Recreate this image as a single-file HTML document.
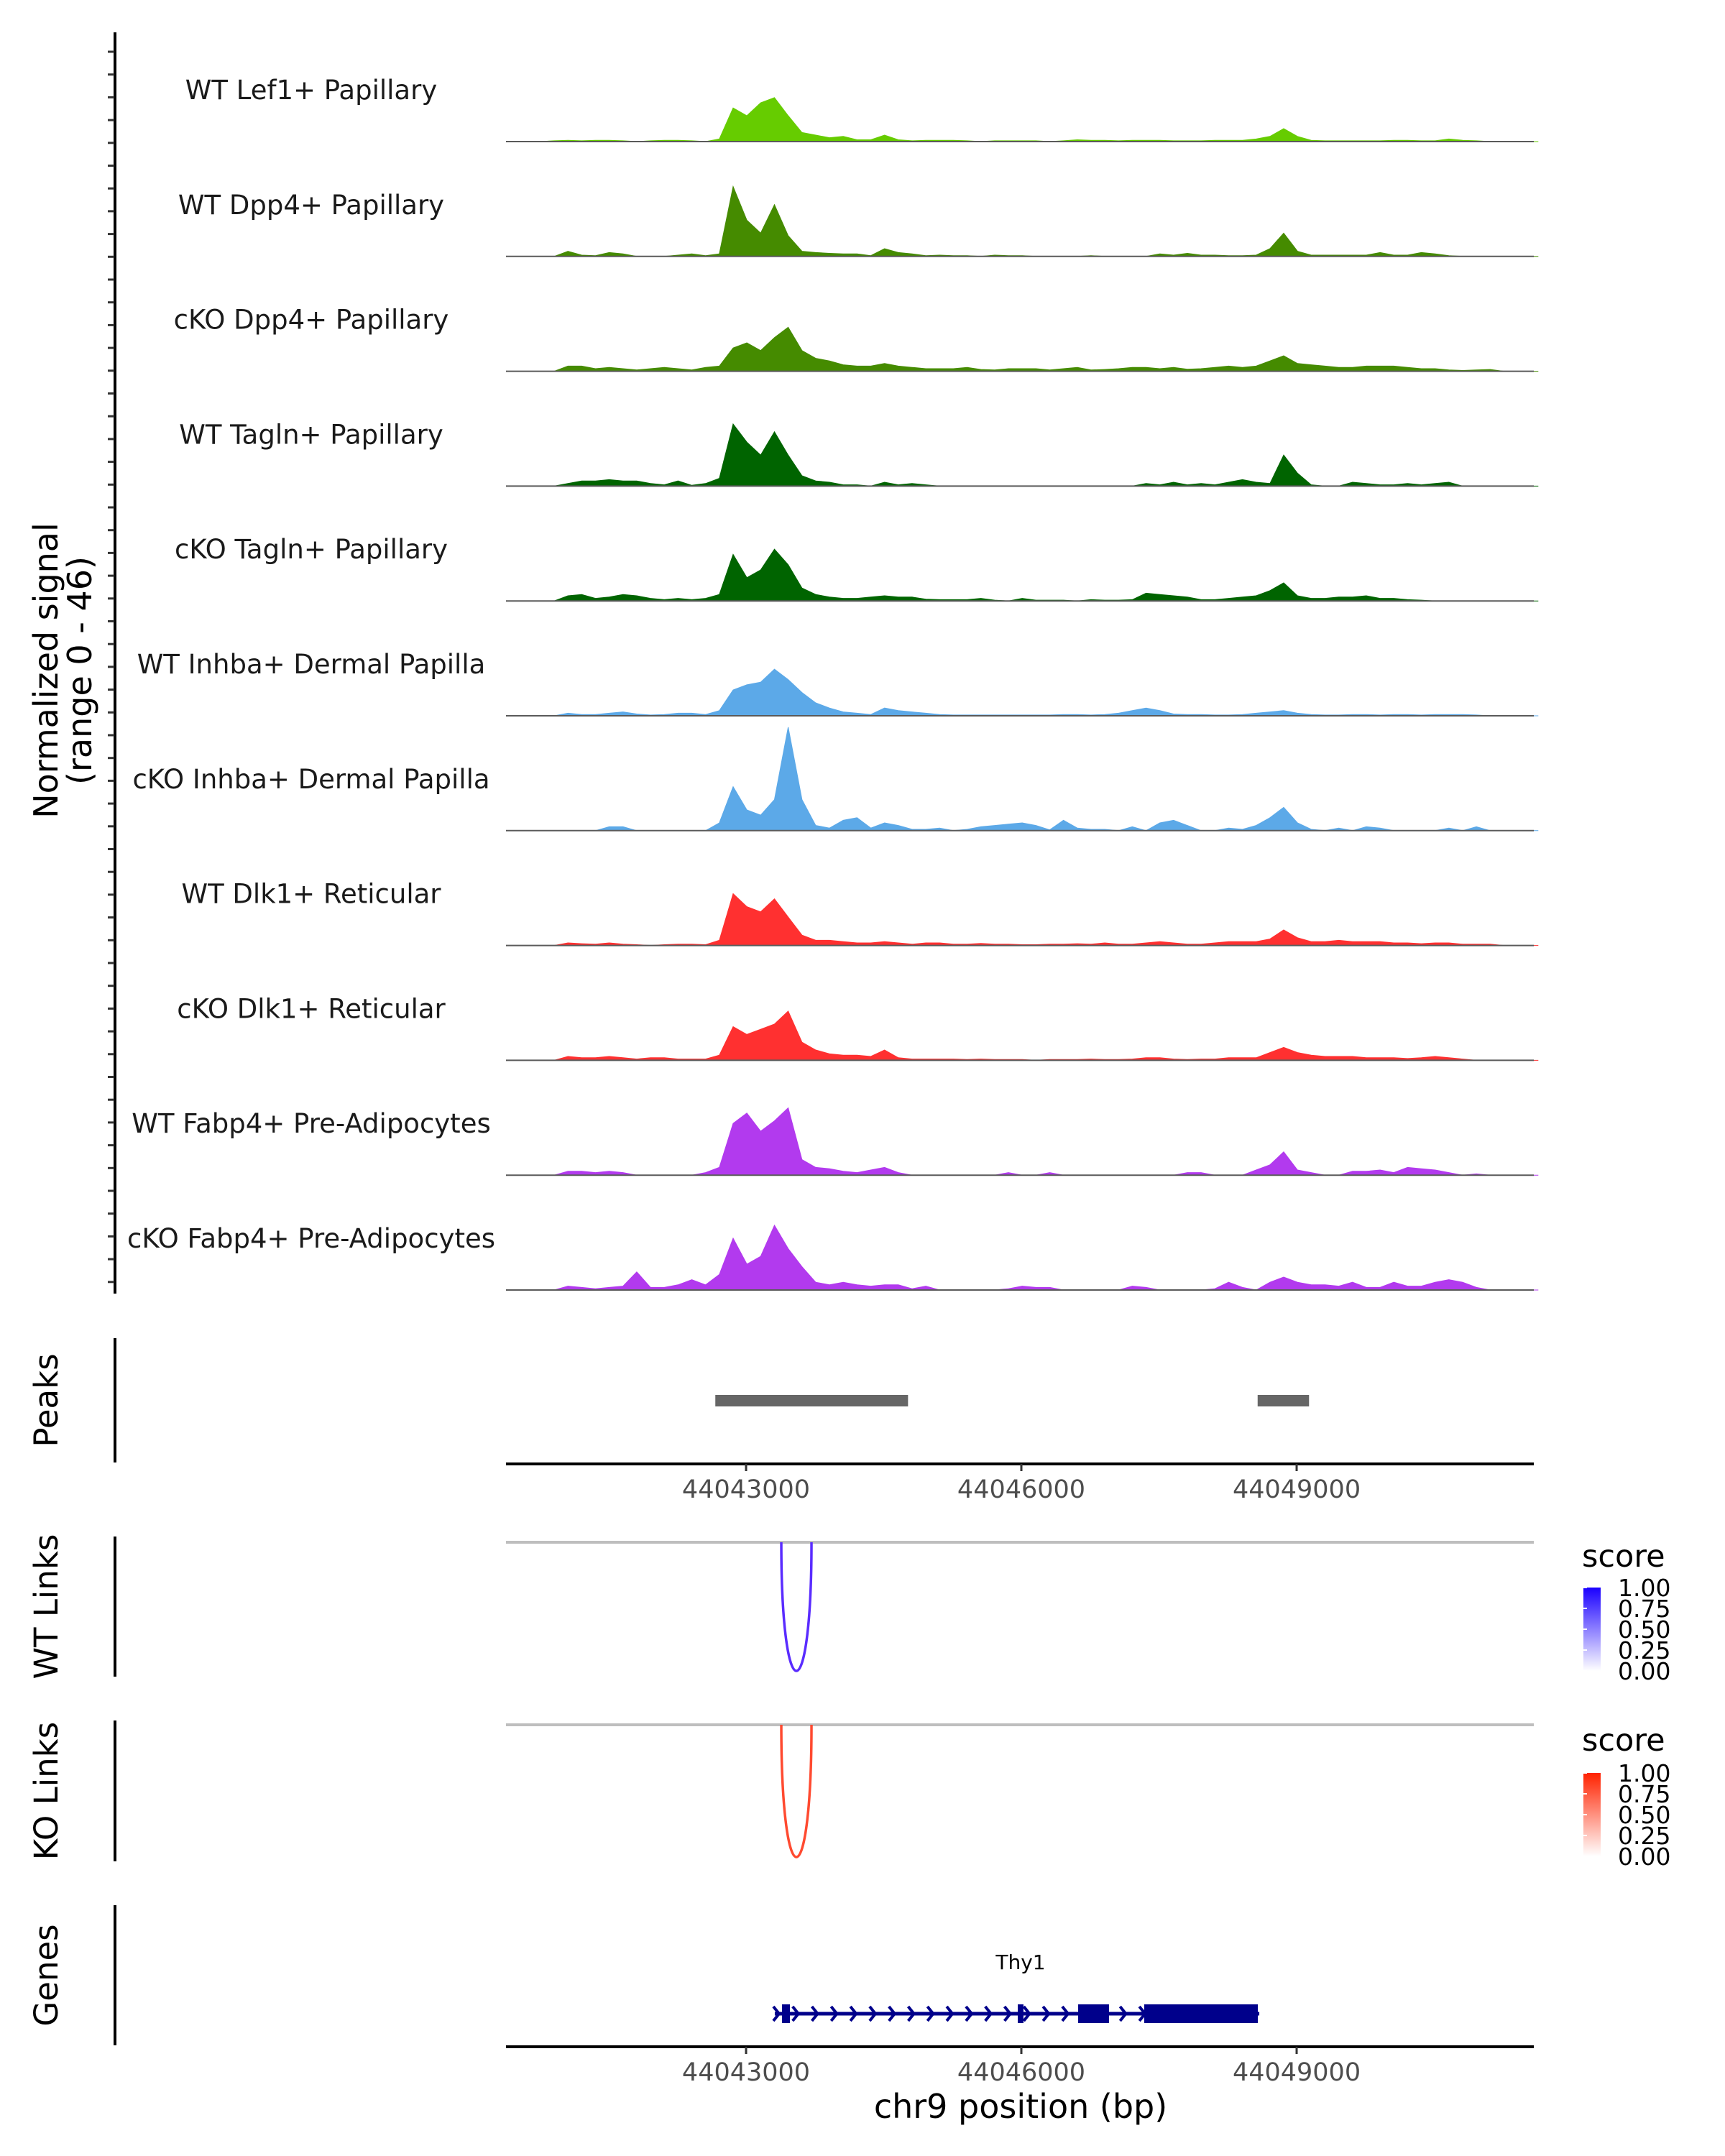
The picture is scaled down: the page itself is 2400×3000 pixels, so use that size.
<!DOCTYPE html>
<html><head><meta charset="utf-8">
<style>
html,body{margin:0;padding:0;background:#fff;}
svg{display:block;font-family:"DejaVu Sans","Liberation Sans",sans-serif;}
</style></head>
<body>
<svg id="chart" width="2400" height="3000" viewBox="0 0 2400 3000" xmlns="http://www.w3.org/2000/svg">
<defs>
<linearGradient id="gradWT" x1="0" y1="1" x2="0" y2="0"><stop offset="0" stop-color="#ffffff"/><stop offset="1" stop-color="#1a00ff"/></linearGradient>
<linearGradient id="gradKO" x1="0" y1="1" x2="0" y2="0"><stop offset="0" stop-color="#ffffff"/><stop offset="1" stop-color="#ff2200"/></linearGradient>
</defs>
<g id="tracks"></g>
<g id="axes"></g>
</svg>
<script>
// ---- data ----
const trackNames = ["WT Lef1+ Papillary","WT Dpp4+ Papillary","cKO Dpp4+ Papillary","WT Tagln+ Papillary","cKO Tagln+ Papillary","WT Inhba+ Dermal Papilla","cKO Inhba+ Dermal Papilla","WT Dlk1+ Reticular","cKO Dlk1+ Reticular","WT Fabp4+ Pre-Adipocytes","cKO Fabp4+ Pre-Adipocytes"];
const trackColors = ["#66cc00","#458b00","#458b00","#006400","#006400","#5ca9e8","#5ca9e8","#ff3030","#ff3030","#b23aee","#b23aee"];
const binStart = 44040384;
const binWidth = 150;
const sigLef1WT = [0,0,0,0.3,0.5,0.3,0.5,0.5,0.3,0,0.3,0.5,0.5,0.3,0,1,13,10,15,17,10,3.5,2.5,1.5,2,0.7,0.7,2.5,0.7,0.3,0.5,0.5,0.5,0.3,0,0.3,0.3,0.3,0.3,0,0.3,0.7,0.5,0.5,0.3,0.5,0.5,0.5,0.3,0.3,0.3,0.5,0.5,0.5,1,2,5,2,0.5,0.3,0.3,0.3,0.3,0.3,0.5,0.5,0.3,0.3,1,0.5,0.3,0,0,0,0];
const sigDpp4WT = [0,0,0,0,2,0.5,0.3,1.5,1,0,0,0,0.5,1,0.3,1,27,14,9,20,8,2,1.5,1.2,1,1,0.3,3,1.5,1,0.3,0.5,0.3,0.3,0,0.5,0.3,0.3,0,0,0,0,0.3,0,0,0,0,1,0.5,1.2,0.5,0.5,0.3,0.3,0.5,3,9,2,0.5,0.5,0.5,0.5,0.5,1.5,0.5,0.5,1.5,1,0.3,0,0,0,0,0,0];
const sigDpp4KO = [0,0,0,0,2,2,1,1.5,1,0.5,1,1.5,1,0.5,1.5,2,9,11,8,13,17,8,5,4,2.5,2,2,3,2,1.5,1,1,1,1.5,0.7,0.5,1,1,1,0.5,1,1.5,0.5,0.7,1,1.5,1.5,1,1.5,0.8,1,1.5,2,1.5,2,4,6,3,2.5,2,1.5,1.5,2,2,2,1.5,1,1,0.5,0.3,0.5,0.7,0,0,0];
const sigTaglnWT = [0,0,0,0,1,2,2,2.5,2,2,1,0.5,2,0.3,1,3,24,17,12,21,12,4,2,1.5,0.5,0.5,0,1.5,0.5,1,0.5,0,0,0,0,0,0,0,0,0,0,0,0,0,0,0,1,0.5,1.5,0.5,1,0.5,1.5,2.5,1.5,1,12,5,0.5,0,0,1.5,1,0.5,0.5,1,0.5,1,1.5,0,0,0,0,0,0];
const sigTaglnKO = [0,0,0,0,2,2.5,1,1.5,2.5,2,1,0.5,1,0.5,1,2.5,18,9,12,20,14,5,2.5,1.5,1,1,1.5,2,1.5,1.5,0.7,0.5,0.5,0.5,1,0.3,0,1,0.3,0.3,0.3,0,0.5,0.3,0.3,0.5,3,2.5,2,1.5,0.5,0.5,1,1.5,2,4,7,2,1,1,1.5,1.5,2,1,1,0.5,0.3,0,0,0,0,0,0,0,0];
const sigInhbaWT = [0,0,0,0,1,0.5,0.5,1,1.5,0.7,0.3,0.5,1,1,0.5,2,10,12,13,18,14,9,5,3,1.5,1,0.5,3,2,1.5,1,0.5,0.3,0.3,0.3,0.3,0.3,0.3,0.3,0.3,0.5,0.5,0.3,0.5,1,2,3,2,0.7,0.5,0.5,0.3,0.3,0.5,1,1.5,2,1,0.5,0.3,0.3,0.5,0.5,0.3,0.5,0.5,0.3,0.5,0.5,0.5,0.3,0,0,0,0];
const sigInhbaKO = [0,0,0,0,0,0,0,1.5,1.5,0,0,0,0,0,0,3,17,8,6,12,40,12,2,1,4,5,1,3,2,0.5,0.5,1,0,0.5,1.5,2,2.5,3,2,0.3,4,1,0.5,0.5,0,1.5,0,3,4,2,0,0,1,0.5,2,5,9,3,0.5,0,1,0,1.5,1,0,0,0,0,1,0,1.5,0,0,0,0];
const sigDlk1WT = [0,0,0,0,1,0.7,0.5,1,0.5,0.3,0,0.3,0.5,0.5,0.3,2,20,15,13,18,11,4,2,2,1.5,1,1,1.5,1,0.5,1,1,0.5,0.5,0.8,0.5,0.5,0.3,0.3,0.5,0.5,0.7,0.5,1,0.5,0.5,1,1.5,1,0.5,0.5,1,1.5,1.5,1.5,2.5,6,3,1.5,1.5,2,1.5,1.5,1.5,1,1,0.7,1,1,0.5,0.5,0.5,0,0,0];
const sigDlk1KO = [0,0,0,0,1.5,1,1,1.5,1,0.5,1,1,0.5,0.5,0.5,2,13,10,12,14,19,7,4,2.5,2,2,1.5,4,1,0.5,0.5,0.5,0.5,0.3,0.5,0.3,0.3,0.3,0,0.3,0.3,0.3,0.5,0.3,0.3,0.5,1,1,0.5,0.3,0.5,0.5,1,1,1,3,5,3,2,1.5,1.5,1.5,1,1,1,0.7,1,1.5,1,0.5,0,0,0,0,0];
const sigFabp4WT = [0,0,0,0,1.5,1.5,1,1.5,1,0,0,0,0,0,1,3,20,24,17,21,26,6,3,2.5,1.5,1,2,3,1,0,0,0,0,0,0,0,1,0,0,1,0,0,0,0,0,0,0,0,0,1,1,0,0,0,2,4,9,2,1,0,0,1.5,1.5,2,1,3,2.5,2,1,0,0.5,0,0,0,0];
const sigFabp4KO = [0,0,0,0,1.5,1,0.5,1,1.5,7,1,1,2,4,2,6,20,10,13,25,16,9,3,2,3,2,1.5,2,2,0.5,1.5,0,0,0,0,0,0.5,1.5,1,1,0,0,0,0,0,1.5,1,0,0,0,0,0.5,3,1,0,3,5,3,2,2,1.5,3,1,1,3,1.5,1.5,3,4,3,1,0,0,0,0];
const signals = [sigLef1WT,sigDpp4WT,sigDpp4KO,sigTaglnWT,sigTaglnKO,sigInhbaWT,sigInhbaKO,sigDlk1WT,sigDlk1KO,sigFabp4WT,sigFabp4KO];
const peakStarts = [44042665, 44048575];
const peakEnds = [44044765, 44049135];
const xTicks = [44043000, 44046000, 44049000];
const xTickLabels = ["44043000","44046000","44049000"];
const linkStarts = [44043384];
const linkEnds = [44043713];
const linkScoresWT = [0.8];
const linkScoresKO = [0.8];
const geneStart = 44043313;
const geneEnd = 44048593;
const exonStarts = [44043392, 44045961, 44046619, 44047339];
const exonEnds = [44043478, 44046023, 44046955, 44048577];
const legendTicks = ["1.00","0.75","0.50","0.25","0.00"];

// ---- scales ----
const plotL = 704, plotR = 2134;
const xOf = bp => 1038 + (bp - 44043000) * 0.12767;
const baseY0 = 197, trackStep = 159.8, unitPx = 3.6;
const ns = "http://www.w3.org/2000/svg";
function mk(tag, attrs, parent, text){
  const e = document.createElementNS(ns, tag);
  for (const k in attrs) e.setAttribute(k, attrs[k]);
  if (text !== undefined) e.textContent = text;
  parent.appendChild(e);
  return e;
}
const tracksG = document.getElementById('tracks');
const axesG = document.getElementById('axes');

// coverage tracks
signals.forEach((vals, t) => {
  const base = baseY0 + t * trackStep;
  const g = mk('g', {}, tracksG);
  
  
  let d = 'M' + xOf(binStart).toFixed(1) + ',' + base;
  vals.forEach((v, i) => {
    const x = xOf(binStart + (i + 0.5) * binWidth);
    d += ' L' + x.toFixed(1) + ',' + (base - v * unitPx).toFixed(1);
  });
  d += ' L' + xOf(binStart + vals.length * binWidth).toFixed(1) + ',' + base + ' Z';
  const a = mk('path', {d: d, fill: trackColors[t], stroke: trackColors[t], 'stroke-width': 1}, g);
  
  
  const bl = mk('line', {x1: plotL, x2: plotR, y1: base, y2: base, stroke: '#5a5a5a', 'stroke-width': 2}, g);
  
  
  const lb = mk('text', {x: 433, y: 126 + t * trackStep + 12, 'font-size': 37, 'text-anchor': 'middle', fill: '#1a1a1a'}, g, trackNames[t]);
  
  
});

// left signal axis
const la = mk('line', {x1: 160, x2: 160, y1: 45, y2: 1800, stroke: '#000', 'stroke-width': 4}, axesG);


for (let y = 72; y < 1800; y += 31.7) {
  const tk = mk('line', {x1: 150, x2: 159, y1: y, y2: y, stroke: '#333', 'stroke-width': 3}, axesG);
  
  
}
const yt = mk('text', {transform: 'translate(80,933) rotate(-90)', 'font-size': 46, 'text-anchor': 'middle', fill: '#000'}, axesG);


mk('tspan', {x: 0, dy: 0}, yt, 'Normalized signal');
mk('tspan', {x: 0, dy: 47}, yt, '(range 0 - 46)');

// panel side labels and axes
function sideLabel(name, text, y0, y1){
  const l = mk('line', {x1: 160, x2: 160, y1: y0, y2: y1, stroke: '#000', 'stroke-width': 4}, axesG);
  
  
  const t = mk('text', {transform: 'translate(80,' + ((y0 + y1) / 2) + ') rotate(-90)', 'font-size': 45, 'text-anchor': 'middle', fill: '#000'}, axesG, text);
  
  
}
sideLabel('peaks', 'Peaks', 1862, 2035);
sideLabel('wt-links', 'WT Links', 2138, 2333);
sideLabel('ko-links', 'KO Links', 2394, 2590);
sideLabel('genes', 'Genes', 2651, 2846);

// peaks
peakStarts.forEach((s, i) => {
  const r = mk('rect', {x: xOf(s), y: 1941, width: xOf(peakEnds[i]) - xOf(s), height: 16, fill: '#666666'}, axesG);
  
  
});

// x axes
function xAxis(name, y){
  const l = mk('line', {x1: plotL, x2: plotR, y1: y, y2: y, stroke: '#000', 'stroke-width': 4}, axesG);
  
  
  xTicks.forEach((bp, i) => {
    const tk = mk('line', {x1: xOf(bp), x2: xOf(bp), y1: y, y2: y + 10, stroke: '#333', 'stroke-width': 3}, axesG);
    
    
    const tl = mk('text', {x: xOf(bp), y: y + 47, 'font-size': 35, 'text-anchor': 'middle', fill: '#4d4d4d'}, axesG, xTickLabels[i]);
    
    
  });
}
xAxis('peaks-x-axis', 2037);
xAxis('genes-x-axis', 2848);
const xt = mk('text', {x: 1420, y: 2947, 'font-size': 46, 'text-anchor': 'middle', fill: '#000'}, axesG, 'chr9 position (bp)');



// links
function links(name, topY, bottomY, color){
  const gl = mk('line', {x1: plotL, x2: plotR, y1: topY, y2: topY, stroke: '#bebebe', 'stroke-width': 4}, axesG);
  
  
  linkStarts.forEach((s, i) => {
    const x0 = xOf(s), x1 = xOf(linkEnds[i]);
    const depth = (bottomY - topY) * 4 / 3;
    const p = mk('path', {d: 'M' + x0 + ',' + topY + ' C' + x0 + ',' + (topY + depth) + ' ' + x1 + ',' + (topY + depth) + ' ' + x1 + ',' + topY, fill: 'none', stroke: color, 'stroke-width': 3.5}, axesG);
    
    
  });
}
links('wt-links', 2146, 2325, '#5a2cff');
links('ko-links', 2400, 2584, '#ff4a30');

// legends
function legend(name, titleY, barY0, grad){
  const t = mk('text', {x: 2201, y: titleY, 'font-size': 43, fill: '#000'}, axesG, 'score');
  
  
  const r = mk('rect', {x: 2203, y: barY0, width: 24, height: 116, fill: 'url(#' + grad + ')'}, axesG);
  
  
  legendTicks.forEach((lab, i) => {
    const yy = barY0 + i * 29;
    const tk = mk('line', {x1: 2203, x2: 2208, y1: yy, y2: yy, stroke: '#fff', 'stroke-width': 2}, axesG);
    
    
    const l = mk('text', {x: 2251, y: yy + 12, 'font-size': 33, fill: '#000'}, axesG, lab);
    
    
  });
}
legend('wt-legend', 2180, 2209, 'gradWT');
legend('ko-legend', 2436, 2467, 'gradKO');

// gene model
const geneY = 2802, gc = '#00008b';
const gname = mk('text', {x: 1420, y: 2740, 'font-size': 28, 'text-anchor': 'middle', fill: '#000'}, axesG, 'Thy1');


const gl = mk('line', {x1: xOf(geneStart), x2: xOf(geneEnd), y1: geneY, y2: geneY, stroke: gc, 'stroke-width': 5}, axesG);


for (let x = xOf(geneStart) + 2; x < xOf(geneEnd) - 5; x += 26.8) {
  const c = mk('path', {d: 'M' + (x - 4) + ',' + (geneY - 10) + ' L' + (x + 4) + ',' + geneY + ' L' + (x - 4) + ',' + (geneY + 10), fill: 'none', stroke: gc, 'stroke-width': 4}, axesG);
  
  
}
exonStarts.forEach((s, i) => {
  const e = mk('rect', {x: xOf(s), y: geneY - 13, width: Math.max(4, xOf(exonEnds[i]) - xOf(s)), height: 26, fill: gc}, axesG);
  
  
});
</script>
</body></html>
